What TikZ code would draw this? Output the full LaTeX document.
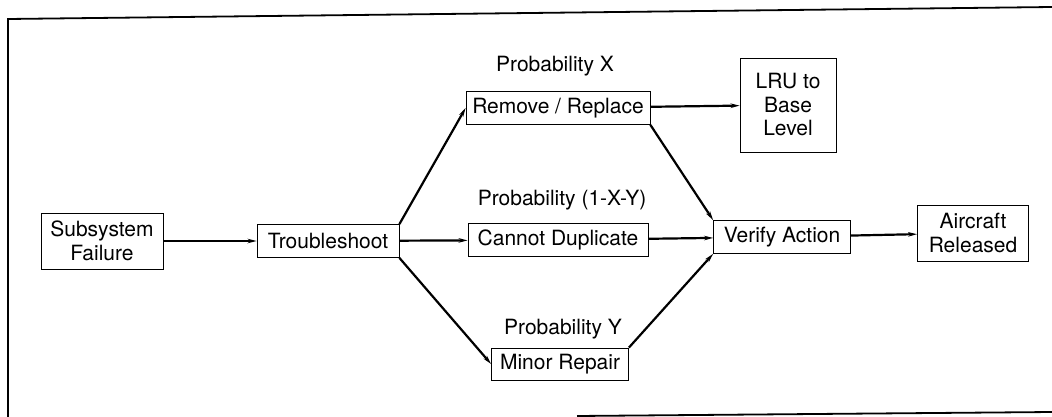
\documentclass[tikz,border=0pt]{standalone}
\usepackage{fontspec}
\setmainfont{TeX Gyre Heros}
\usetikzlibrary{arrows.meta}
\tikzset{
  txt/.style  ={font=\fontsize{21}{23.5}\selectfont},
  box/.style  ={txt, draw, line width=0.8pt, align=center, inner sep=0pt,
                minimum height=33pt},
  tallbox/.style={box, minimum height=56pt},
  flow/.style ={line width=2.2pt, -{Stealth[length=9pt,width=4.5pt]}},
  frame/.style={line width=1.8pt},
}

\begin{document}
\begin{tikzpicture}[x=1pt,y=-1pt]
\useasboundingbox (0,0) rectangle (1052,417);
% scanned frame
\draw[frame] (8,417) -- (8,19) -- (1052,7);
\draw[frame] (577,416) -- (1052,412);
% boxes
\node[tallbox, minimum width=122pt] (fail) at (102,241) {Subsystem\\Failure};
\node[box, minimum width=142pt] (trouble) at (328,241) {Troubleshoot};
\node[box, minimum width=184pt] (remove) at (558,108) {Remove / Replace};
\node[box, minimum width=96pt, minimum height=94pt] (lru) at (788,105) {LRU to\\Base\\Level};
\node[box, minimum width=180pt] (cannot) at (558,240) {Cannot Duplicate};
\node[box, minimum width=137pt] (verify) at (782,237) {Verify Action};
\node[tallbox, minimum width=111pt] (aircraft) at (973,233) {Aircraft\\Released};
\node[box, minimum width=137pt, minimum height=32pt] (minor) at (560,364) {Minor Repair};
% probabilities
\node[txt] (px) at (555,66) {Probability X};
\node[txt] (pxy) at (562,200) {Probability (1-X-Y)};
\node[txt] (py) at (563,329) {Probability Y};
% flow
\draw[flow] (fail) -- (trouble);
\draw[flow] (trouble.north east) -- (remove.west);
\draw[flow] (trouble) -- (cannot);
\draw[flow] (trouble.south east) -- (minor.west);
\draw[flow] (remove) -- (lru);
\draw[flow] (remove.south east) -- (verify.north west);
\draw[flow] (cannot) -- (verify);
\draw[flow] (minor.north east) -- (verify.south west);
\draw[flow] (verify) -- (aircraft);
\end{tikzpicture}
\end{document}
